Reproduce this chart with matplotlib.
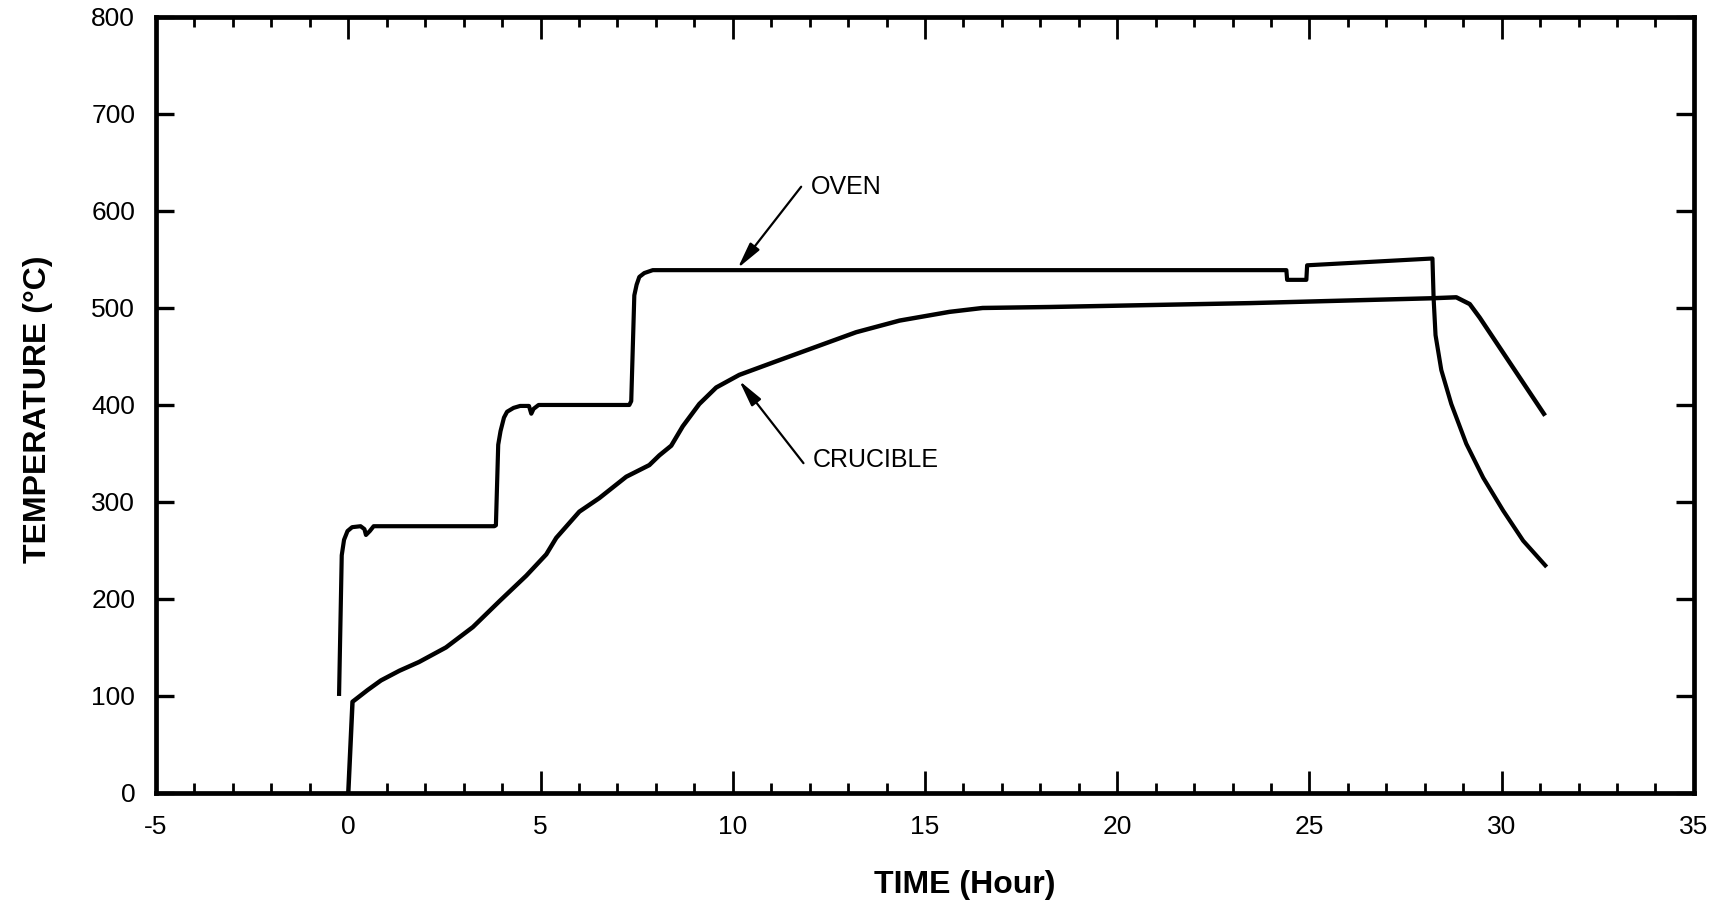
import matplotlib
matplotlib.use("Agg")
import matplotlib.pyplot as plt
from matplotlib.ticker import MultipleLocator

plt.rcParams['font.family'] = ['Liberation Sans', 'DejaVu Sans']
plt.rcParams['axes.unicode_minus'] = False

# oven thermocouple (hours, deg C)
oven_t = [-0.24, -0.17, -0.11, -0.02, 0.10, 0.32, 0.42, 0.46, 0.56, 0.66,
          3.80, 3.84, 3.90, 3.96, 4.05, 4.13, 4.30, 4.47, 4.70, 4.76, 4.82, 4.95,
          7.31, 7.36, 7.44, 7.50, 7.57, 7.70, 7.92,
          24.40, 24.42, 24.92, 24.94, 28.20,
          28.23, 28.28, 28.43, 28.69, 29.08, 29.52, 30.04, 30.56, 31.17]
oven_T = [100, 245, 261, 270, 274, 275, 272, 266, 270, 275,
          275, 276, 359, 373, 387, 393, 397, 399, 399, 391, 396, 400,
          400, 404, 513, 524, 532, 536, 539,
          539, 529, 529, 544, 551,
          510, 472, 436, 401, 360, 325, 291, 260, 233]

# crucible thermocouple
cru_t = [0.00, 0.11, 0.50, 0.85, 1.33, 1.84, 2.54, 3.24, 3.94, 4.63, 5.15, 5.41,
         6.01, 6.53, 7.23, 7.83, 8.09, 8.40, 8.70, 9.13, 9.57, 10.17, 11.13,
         12.17, 13.21, 14.34, 15.64, 16.50, 18.24, 23.45, 28.17, 28.82, 29.17,
         29.43, 31.13]
cru_T = [0, 94, 106, 116, 126, 135, 150, 171, 198, 224, 246, 263,
         290, 304, 326, 338, 348, 358, 378, 401, 418, 431, 445,
         460, 475, 487, 496, 500, 501, 505, 510, 511, 504,
         490, 389]

fig = plt.figure(figsize=(17.11, 9.08), dpi=100)
ax = fig.add_axes([0.0912, 0.1267, 0.8988, 0.8546])

ax.plot(oven_t, oven_T, color='k', lw=3.0, solid_joinstyle='round', solid_capstyle='butt')
ax.plot(cru_t, cru_T, color='k', lw=3.2, solid_joinstyle='round', solid_capstyle='butt')

arrow = dict(arrowstyle='-|>,head_length=0.8,head_width=0.18', color='k', lw=1.6,
             mutation_scale=20, shrinkA=0, shrinkB=0)
ax.annotate('', xy=(10.13, 541), xytext=(11.78, 625), arrowprops=arrow)
ax.text(12.04, 625, 'OVEN', fontsize=18, ha='left', va='center')
ax.annotate('', xy=(10.17, 425), xytext=(11.84, 340), arrowprops=arrow)
ax.text(12.07, 343, 'CRUCIBLE', fontsize=18, ha='left', va='center')

ax.set_xlim(-5, 35)
ax.set_ylim(0, 800)
ax.xaxis.set_major_locator(MultipleLocator(5))
ax.xaxis.set_minor_locator(MultipleLocator(1))
ax.yaxis.set_major_locator(MultipleLocator(100))
ax.xaxis.set_ticks_position('both')
ax.yaxis.set_ticks_position('both')

ax.tick_params(axis='x', which='major', direction='in', length=16,
               width=2.0, color='k', labelsize=19, pad=16)
ax.tick_params(axis='x', which='minor', direction='in', length=7, width=2.0, color='k')
ax.tick_params(axis='y', which='major', direction='in', length=13,
               width=2.4, color='k', labelsize=19, pad=15)

for sp in ax.spines.values():
    sp.set_linewidth(3.4)

ax.set_xlabel('TIME (Hour)', fontsize=23, fontweight='bold')
ax.xaxis.set_label_coords(0.526, -0.118)
ax.xaxis.label.set_verticalalignment('center')
ax.set_ylabel('TEMPERATURE (\u00b0C)', fontsize=23, fontweight='bold')
ax.yaxis.set_label_coords(-0.077, 0.495)
ax.yaxis.label.set_verticalalignment('center')

fig.savefig('out.png', dpi=100)
